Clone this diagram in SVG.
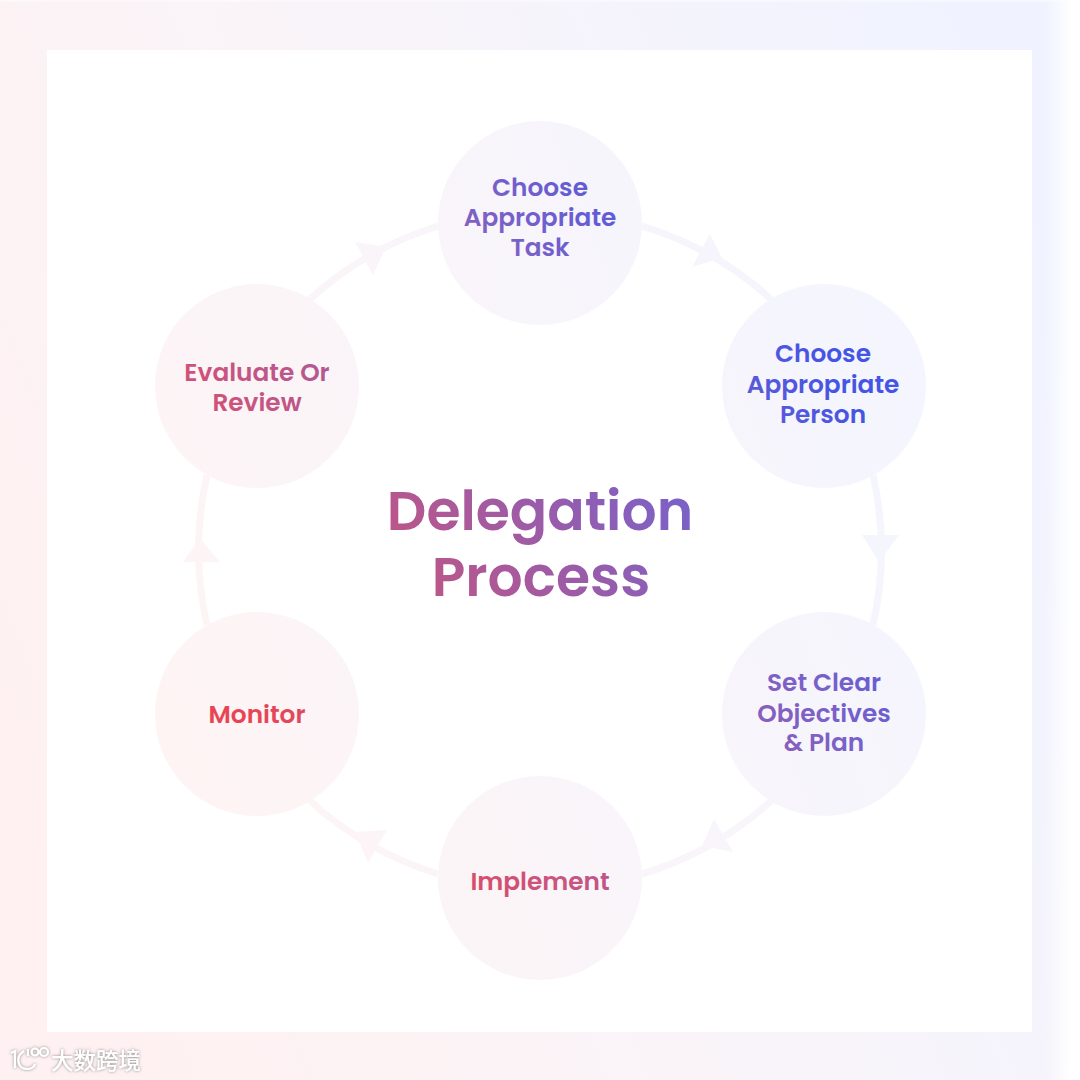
<svg xmlns="http://www.w3.org/2000/svg" width="1080" height="1080" viewBox="0 0 1080 1080">
<defs>
<linearGradient id="bg" gradientUnits="userSpaceOnUse" x1="0" y1="760" x2="1080" y2="320"><stop offset="0" stop-color="#fff1f1"/><stop offset="0.5" stop-color="#f9f4f9"/><stop offset="1" stop-color="#f0f3ff"/></linearGradient>
<linearGradient id="nd" gradientUnits="userSpaceOnUse" x1="150" y1="700" x2="930" y2="400"><stop offset="0" stop-color="#fef4f4"/><stop offset="0.5" stop-color="#f9f5fa"/><stop offset="1" stop-color="#f4f5fe"/></linearGradient>
<linearGradient id="fade" x1="0" y1="0" x2="1" y2="0"><stop offset="0" stop-color="#fff" stop-opacity="0"/><stop offset="1" stop-color="#fff" stop-opacity="0.95"/></linearGradient>
<linearGradient id="tx" gradientUnits="userSpaceOnUse" x1="150" y1="800" x2="900" y2="300"><stop offset="0.15" stop-color="#e84455"/><stop offset="0.33" stop-color="#c95480"/><stop offset="0.4" stop-color="#b8578c"/><stop offset="0.68" stop-color="#7a61c8"/><stop offset="0.9" stop-color="#4454e4"/></linearGradient>
<filter id="sh" x="-20%" y="-30%" width="140%" height="160%"><feDropShadow dx="0" dy="0" stdDeviation="1.5" flood-color="#666" flood-opacity="0.8"/></filter>
<style>
.n{fill:url(#nd)}
.c{fill:none;stroke:url(#nd);stroke-width:7}
.h{fill:url(#nd)}
.t{font-family:Poppins,"Inter","Liberation Sans",sans-serif;font-weight:600;font-size:24.8px;text-anchor:middle;fill:url(#tx)}
.title{font-family:Poppins,"Inter","Liberation Sans",sans-serif;font-weight:600;font-size:55.2px;text-anchor:middle;fill:url(#tx)}
.wm{font-family:"Noto Sans CJK SC",sans-serif;font-size:22.5px;font-weight:500;fill:#fff;filter:url(#sh)}
.wl{fill:none;stroke:#fff;stroke-width:2.2}
</style>
</defs>
<rect id="background" width="1080" height="1080" fill="url(#bg)"/>
<rect x="1045" width="25" height="1080" fill="url(#fade)"/>
<rect x="1070" width="10" height="1080" fill="#fff" opacity="0.95"/>
<rect x="0" width="1080" height="2" fill="#fff" opacity="0.4"/>
<rect x="47" y="50" width="985" height="982" fill="#fff"/>
<g id="connectors">
<path class="c" d="M642 226A340 340 0 0 1 772 300"/>
<path class="c" d="M873 475A340 340 0 0 1 873 625"/>
<path class="c" d="M772 800A340 340 0 0 1 642 874"/>
<path class="c" d="M438 874A340 340 0 0 1 309 800"/>
<path class="c" d="M207 625A340 340 0 0 1 207 475"/>
<path class="c" d="M309 300A340 340 0 0 1 438 226"/>
<polygon class="h" points="710,234 722,258 692,267"/>
<polygon class="h" points="862,535 899,535 879,562"/>
<polygon class="h" points="714,819 733,852 702,846"/>
<polygon class="h" points="355,832 387,830 368,863"/>
<polygon class="h" points="200,538 183,562 220,562"/>
<polygon class="h" points="355,242 386,247 373,275"/>
</g>
<g id="node-task"><circle class="n" cx="540" cy="223" r="102"/><text class="t" x="540" y="196">Choose</text><text class="t" x="540" y="226">Appropriate</text><text class="t" x="540" y="256">Task</text></g>
<g id="node-person"><circle class="n" cx="824" cy="386" r="102"/><text class="t" x="823" y="362">Choose</text><text class="t" x="823" y="393">Appropriate</text><text class="t" x="823" y="423">Person</text></g>
<g id="node-objectives"><circle class="n" cx="824" cy="714" r="102"/><text class="t" x="824" y="691">Set Clear</text><text class="t" x="824" y="722">Objectives</text><text class="t" x="824" y="751">&amp; Plan</text></g>
<g id="node-implement"><circle class="n" cx="540" cy="878" r="102"/><text class="t" x="540" y="890">Implement</text></g>
<g id="node-monitor"><circle class="n" cx="257" cy="714" r="102"/><text class="t" x="257" y="723">Monitor</text></g>
<g id="node-evaluate"><circle class="n" cx="257" cy="386" r="102"/><text class="t" x="257" y="381">Evaluate Or</text><text class="t" x="257" y="411">Review</text></g>
<g id="title"><text class="title" x="540" y="530">Delegation</text><text class="title" x="541" y="596">Process</text></g>
<g id="watermark">
<g filter="url(#sh)"><path class="wl" d="M11 1053L15 1051V1068M24 1051C15 1056 17 1069 27 1069C31 1069 34 1067 35 1064M28 1056V1049"/>
<circle class="wl" cx="35" cy="1052" r="3.5"/><circle class="wl" cx="44" cy="1052" r="4"/></g>
<text class="wm" x="51" y="1069">大数跨境</text>
</g>
</svg>
